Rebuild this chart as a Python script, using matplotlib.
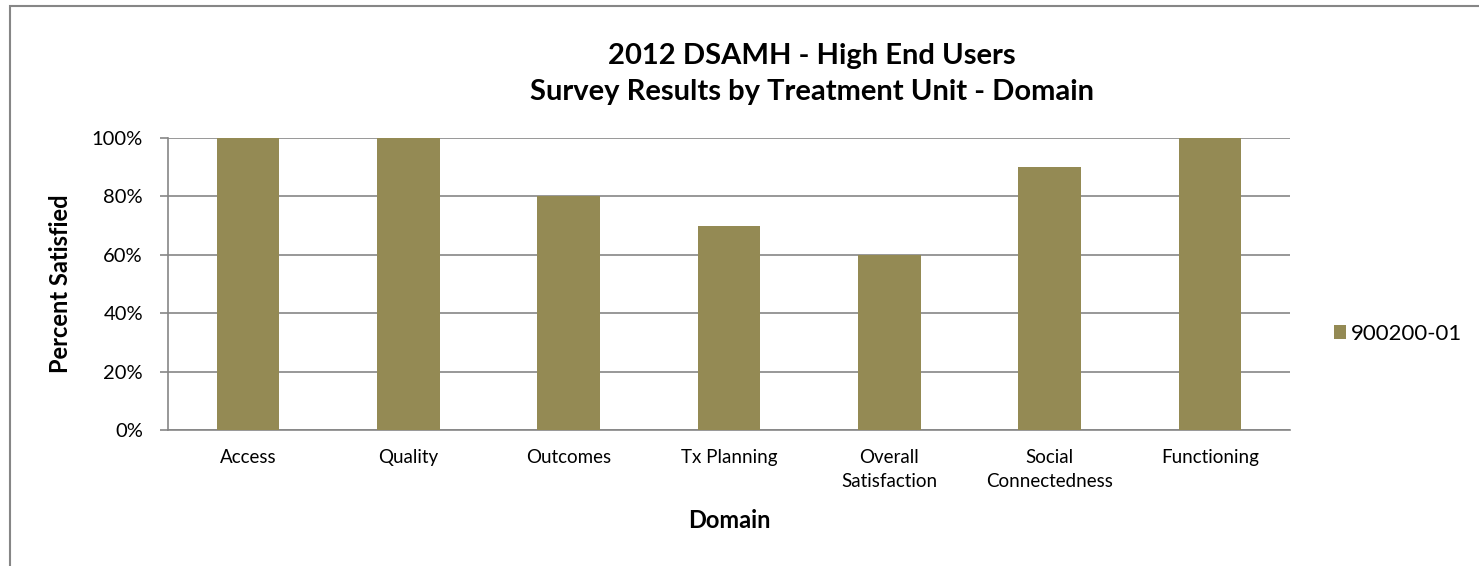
import matplotlib
matplotlib.use("Agg")
import matplotlib.pyplot as plt
from matplotlib.patches import Rectangle
from matplotlib.ticker import FuncFormatter

# data
domains = ["Access", "Quality", "Outcomes", "Tx Planning",
           "Overall\nSatisfaction", "Social\nConnectedness", "Functioning"]
pct_satisfied = [1.00, 1.00, 0.80, 0.70, 0.60, 0.90, 1.00]
series_name = "900200-01"
y_ticks = [0.0, 0.2, 0.4, 0.6, 0.8, 1.0]

W, H = 1479, 566
BAR = "#948A54"
GRAY = "#868686"

plt.rcParams["font.family"] = ["Lato", "DejaVu Sans"]

fig = plt.figure(figsize=(W / 100, H / 100), dpi=100)
ax = fig.add_axes([168 / W, 1 - 430 / H, (1290 - 168) / W, (430 - 138) / H])

x = range(len(domains))
ax.bar(x, pct_satisfied, width=0.39, color=BAR, label=series_name, zorder=3)

ax.set_xlim(-0.5, len(domains) - 0.5)
ax.set_ylim(0, 1)
ax.set_yticks(y_ticks)
ax.yaxis.set_major_formatter(FuncFormatter(lambda v, _: f"{v:.0%}"))
ax.set_xticks(list(x))
ax.set_xticklabels(domains, fontsize=13.5, linespacing=1.5)
ax.tick_params(axis="x", length=0, pad=14)
ax.tick_params(axis="y", length=6, width=1.2, color=GRAY, pad=12, labelsize=14.5)

ax.grid(axis="y", color=GRAY, linewidth=1.2, zorder=0)
for side in ("top", "right"):
    ax.spines[side].set_visible(False)
for side in ("left", "bottom"):
    ax.spines[side].set_color(GRAY)
    ax.spines[side].set_linewidth(1.2)

# titles and axis titles placed in figure pixels
fig.text(812 / W, 1 - 56 / H, "2012 DSAMH - High End Users", ha="center", va="center",
         fontsize=21, fontweight="bold")
fig.text(812 / W, 1 - 92 / H, "Survey Results by Treatment Unit - Domain", ha="center",
         va="center", fontsize=21, fontweight="bold")
fig.text(61 / W, 1 - 284 / H, "Percent Satisfied", rotation=90, ha="center", va="center",
         fontsize=17, fontweight="bold")
fig.text(729 / W, 1 - 520 / H, "Domain", ha="center", va="center",
         fontsize=17, fontweight="bold")

fig.legend(loc="center left", bbox_to_anchor=(1318 / W, 1 - 334 / H), frameon=False,
           fontsize=16, handlelength=0.55, handleheight=0.55, handletextpad=0.25,
           borderpad=0.2)

# chart-area border (cut off on the right and bottom in the reference)
fig.add_artist(Rectangle((10 / W, -0.2), 1.2, 1.2 - 6 / H, transform=fig.transFigure,
                         fill=False, edgecolor=GRAY, linewidth=1.5))

fig.savefig("out.png", dpi=100)
